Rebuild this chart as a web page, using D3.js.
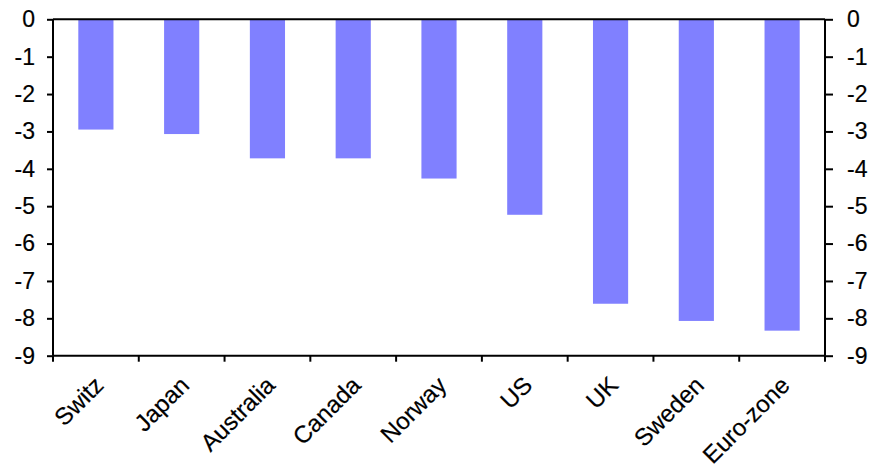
<!DOCTYPE html>
<html><head><meta charset="utf-8">
<script src="https://cdn.jsdelivr.net/npm/d3@7"></script>
<style>body{margin:0;background:#fff}</style>
</head><body>
<svg id="c" width="884" height="475"></svg>
<script>
const categories = ["Switz","Japan","Australia","Canada","Norway","US","UK","Sweden","Euro-zone"];
const values = [-2.95, -3.07, -3.72, -3.72, -4.26, -5.23, -7.61, -8.07, -8.33];
const yTicks = [0,-1,-2,-3,-4,-5,-6,-7,-8,-9];

const svg = d3.select("#c");
const L = 53, R = 825, T = 19.3, B = 355.7;
const x = d3.scaleBand().domain(categories).range([L, R]).paddingInner(0.59).paddingOuter(0.295);
const xt = d3.scaleBand().domain(categories).range([L, R]);
const y = d3.scaleLinear().domain([0, -9]).range([T, B]);
const font = "Liberation Sans, Arial, sans-serif";
const fmt = d => String(d);

svg.append("g").selectAll("rect").data(values).join("rect")
  .attr("x", (d,i) => x(categories[i]))
  .attr("width", x.bandwidth())
  .attr("y", y(0))
  .attr("height", d => y(d) - y(0))
  .attr("fill", "#8080ff");

const gl = svg.append("g").attr("transform", `translate(${L},0)`)
  .call(d3.axisLeft(y).tickValues(yTicks).tickSize(6).tickPadding(12).tickFormat(fmt));
const gr = svg.append("g").attr("transform", `translate(${R},0)`)
  .call(d3.axisRight(y).tickValues(yTicks).tickSize(8).tickPadding(14).tickFormat(fmt));
const gb = svg.append("g").attr("transform", `translate(0,${B})`)
  .call(d3.axisBottom(xt).tickSize(6).tickFormat(""));
gb.selectAll(".tick").remove();
const bounds = categories.map(c => xt(c)).concat([R]);
gb.selectAll("line.bt").data(bounds).join("line").attr("class","bt")
  .attr("x1", d=>d).attr("x2", d=>d).attr("y1",0).attr("y2",6)
  .attr("stroke","#000").attr("stroke-width",2);
gb.select(".domain").attr("d", `M${L},0H${R}`);

svg.append("line").attr("x1", L).attr("x2", R).attr("y1", y(0)).attr("y2", y(0))
  .attr("stroke", "#000").attr("stroke-width", 2);

[gl, gr, gb].forEach(g => {
  g.attr("font-size", null).attr("font-family", null);
  g.select(".domain").attr("stroke", "#000").attr("stroke-width", 2);
  g.selectAll(".tick line").attr("stroke", "#000").attr("stroke-width", 2);
  g.selectAll(".tick text").style("font-family", font).style("font-size", "23px")
    .attr("fill", "#000").attr("stroke", "#000").attr("stroke-width", 0.2);
});
gl.select(".domain").attr("d", `M0,${T}V${B}`);
gr.select(".domain").attr("d", `M0,${T}V${B}`);

svg.append("g").selectAll("text").data(categories).join("text")
  .attr("transform", d => `translate(${xt(d) + xt.bandwidth()/2 + 9},${B + 31}) rotate(-45)`)
  .attr("text-anchor", "end")
  .style("font-family", font).style("font-size", "24px")
  .attr("fill", "#000").attr("stroke", "#000").attr("stroke-width", 0.2)
  .text(d => d);
</script>
</body></html>
